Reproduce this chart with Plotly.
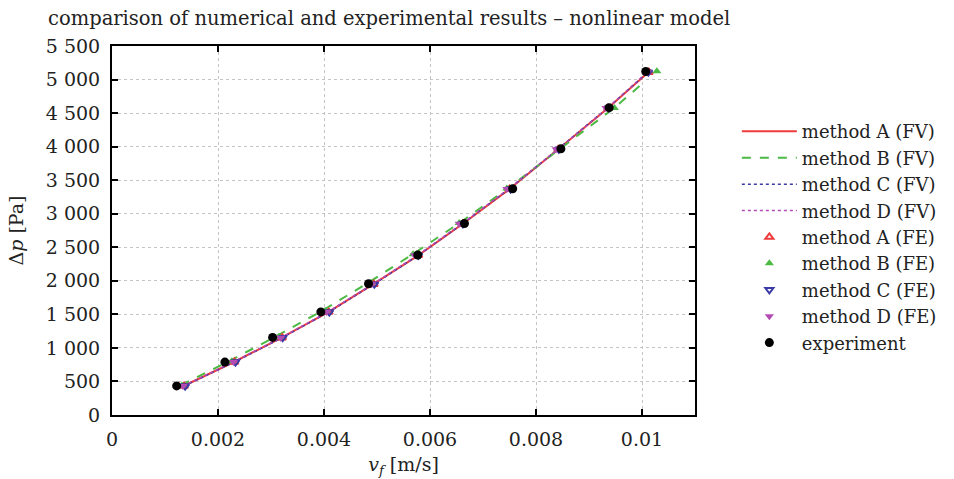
import plotly.graph_objects as go

# experiment
v_exp = [0.00122, 0.00213, 0.00303, 0.00394, 0.00484, 0.00577, 0.00665, 0.00756, 0.00847, 0.00938, 0.01007]
p_exp = [434, 789, 1157, 1537, 1956, 2385, 2854, 3373, 3967, 4581, 5120]

# FV simulations (lines)
p_fv = [432, 790, 1152, 1535, 1950, 2380, 2850, 3368, 3960, 4575, 5110]
vA_fv = [0.00135, 0.00230, 0.00320, 0.00408, 0.00493, 0.00578, 0.00662, 0.00750, 0.00842, 0.00936, 0.01012]
vB_fv = [0.00130, 0.00222, 0.00310, 0.00398, 0.00484, 0.00569, 0.00657, 0.00748, 0.00844, 0.00945, 0.01008]
pB_fv = [445, 805, 1175, 1560, 1975, 2405, 2870, 3385, 3960, 4560, 4990]
vC_fv = [0.00136, 0.00231, 0.00321, 0.00409, 0.00494, 0.00578, 0.00661, 0.00749, 0.00841, 0.00935, 0.01011]
vD_fv = [0.00134, 0.00229, 0.00319, 0.00407, 0.00492, 0.00576, 0.00660, 0.00748, 0.00841, 0.00935, 0.01010]

# FE simulations (markers)
p_fe = [432, 790, 1152, 1535, 1950, 2380, 2850, 3368, 3960, 4575, 5110]
vA_fe = [0.00136, 0.00231, 0.00321, 0.00409, 0.00494, 0.00578, 0.00662, 0.00750, 0.00842, 0.00936, 0.01013]
vB_fe = [0.00132, 0.00226, 0.00315, 0.00402, 0.00488, 0.00568, 0.00655, 0.00745, 0.00843, 0.00948, 0.01028]
pB_fe = [440, 800, 1165, 1550, 1965, 2395, 2860, 3375, 3955, 4575, 5125]
vC_fe = [0.00138, 0.00233, 0.00322, 0.00410, 0.00495, 0.00578, 0.00662, 0.00752, 0.00843, 0.00937, 0.01012]
vD_fe = [0.00134, 0.00229, 0.00318, 0.00405, 0.00490, 0.00571, 0.00655, 0.00745, 0.00838, 0.00932, 0.01010]

x_ticks = [0, 0.002, 0.004, 0.006, 0.008, 0.01]
x_tick_text = ["0", "0.002", "0.004", "0.006", "0.008", "0.01"]
y_ticks = [0, 500, 1000, 1500, 2000, 2500, 3000, 3500, 4000, 4500, 5000, 5500]
y_tick_text = ["0", "500", "1 000", "1 500", "2 000", "2 500", "3 000", "3 500",
               "4 000", "4 500", "5 000", "5 500"]

FONT = "DejaVu Serif"
FS = 19
TXT = "#222222"
RED = "#ee3b3b"
GREEN = "#4cb944"
BLUE = "#3a3aa6"
PURPLE = "#b44bb4"

fig = go.Figure()
fig.add_trace(go.Scatter(x=vA_fv, y=p_fv, mode="lines", name="method A (FV)",
                         line=dict(color=RED, width=2)))
fig.add_trace(go.Scatter(x=vB_fv, y=pB_fv, mode="lines", name="method B (FV)",
                         line=dict(color=GREEN, width=2, dash="dash")))
fig.add_trace(go.Scatter(x=vC_fv, y=p_fv, mode="lines", name="method C (FV)",
                         line=dict(color=BLUE, width=1.5, dash="dot")))
fig.add_trace(go.Scatter(x=vD_fv, y=p_fv, mode="lines", name="method D (FV)",
                         line=dict(color=PURPLE, width=1.5, dash="dot")))
fig.add_trace(go.Scatter(x=vA_fe, y=p_fe, mode="markers", name="method A (FE)",
                         marker=dict(symbol="triangle-up-open", color=RED, size=7,
                                     line=dict(width=2, color=RED))))
fig.add_trace(go.Scatter(x=vB_fe, y=pB_fe, mode="markers", name="method B (FE)",
                         marker=dict(symbol="triangle-up", color=GREEN, size=8)))
fig.add_trace(go.Scatter(x=vC_fe, y=p_fe, mode="markers", name="method C (FE)",
                         marker=dict(symbol="triangle-down-open", color=BLUE, size=7,
                                     line=dict(width=2, color=BLUE))))
fig.add_trace(go.Scatter(x=vD_fe, y=p_fe, mode="markers", name="method D (FE)",
                         marker=dict(symbol="triangle-down", color=PURPLE, size=8)))
fig.add_trace(go.Scatter(x=v_exp, y=p_exp, mode="markers", name="experiment",
                         marker=dict(symbol="circle", color="black", size=9)))

fig.update_layout(
    width=954, height=479,
    paper_bgcolor="white", plot_bgcolor="white",
    margin=dict(l=112, r=257, t=46, b=64),
    font=dict(family=FONT, size=FS, color=TXT),
    title=dict(text="comparison of numerical and experimental results – nonlinear model",
               x=48 / 954, xanchor="left", y=1 - 18 / 479, yanchor="middle",
               font=dict(family=FONT, size=19.5, color=TXT)),
    legend=dict(x=1.0718, xanchor="left", y=0.818, yanchor="top",
                font=dict(family=FONT, size=18, color=TXT),
                tracegroupgap=0, itemwidth=55, bgcolor="rgba(0,0,0,0)"),
    showlegend=True,
)
fig.update_xaxes(
    range=[0, 0.011], tickvals=x_ticks, ticktext=x_tick_text,
    ticks="inside", ticklen=6, tickcolor="black", tickwidth=1.5,
    ticklabelstandoff=6, automargin=False,
    showline=True, linecolor="black", linewidth=2, mirror="ticks",
    showgrid=True, gridcolor="#c4c4c4", griddash="dot", gridwidth=1,
    zeroline=False,
    title=dict(text="<i>v<sub>f</sub></i> [m/s]", standoff=9,
               font=dict(family=FONT, size=FS, color=TXT)),
)
fig.update_yaxes(
    range=[0, 5500], tickvals=y_ticks, ticktext=y_tick_text,
    ticks="inside", ticklen=6, tickcolor="black", tickwidth=1.5,
    ticklabelstandoff=6, automargin=False,
    showline=True, linecolor="black", linewidth=2, mirror="ticks",
    showgrid=True, gridcolor="#c4c4c4", griddash="dot", gridwidth=1,
    zeroline=False,
    title=dict(text="Δ<i>p</i> [Pa]", standoff=17,
               font=dict(family=FONT, size=FS, color=TXT)),
)

fig.write_html("out.html", config={"displayModeBar": False},
               post_script="document.body.style.margin='0';document.body.style.overflow='hidden';")
